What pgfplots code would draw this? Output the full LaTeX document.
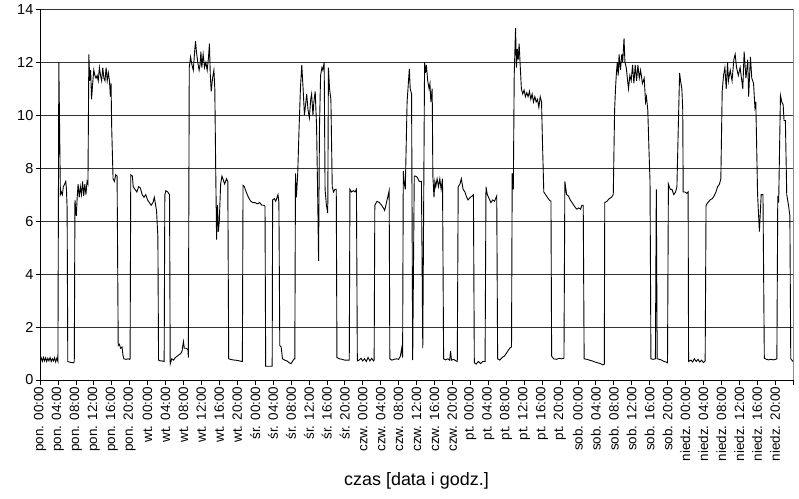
\documentclass[border=0pt]{standalone}
\usepackage{fontspec}
\setmainfont{Liberation Sans}
\usepackage{pgfplots}
\pgfplotsset{compat=1.18}
\begin{document}
\begin{tikzpicture}
\useasboundingbox (0,0) rectangle (799bp,499bp);
\begin{axis}[
  at={(40bp,119bp)}, anchor=south west,
  scale only axis, width=753bp, height=370.7bp,
  xmin=0, xmax=168, ymin=0, ymax=14,
  axis lines*=left,
  axis line style={black, line width=0.8bp},
  tick align=outside,
  major tick length=4.5bp,
  tick style={black, line width=0.7bp},
  ytick={0,2,...,14},
  xtick={0,4,...,164},
  xticklabels={pon. 00:00,pon. 04:00,pon. 08:00,pon. 12:00,pon. 16:00,pon. 20:00,
    wt. 00:00,wt. 04:00,wt. 08:00,wt. 12:00,wt. 16:00,wt. 20:00,
    śr. 00:00,śr. 04:00,śr. 08:00,śr. 12:00,śr. 16:00,śr. 20:00,
    czw. 00:00,czw. 04:00,czw. 08:00,czw. 12:00,czw. 16:00,czw. 20:00,
    pt. 00:00,pt. 04:00,pt. 08:00,pt. 12:00,pt. 16:00,pt. 20:00,
    sob. 00:00,sob. 04:00,sob. 08:00,sob. 12:00,sob. 16:00,sob. 20:00,
    niedz. 00:00,niedz. 04:00,niedz. 08:00,niedz. 12:00,niedz. 16:00,niedz. 20:00},
  xticklabel style={rotate=90, anchor=east, font=\fontsize{13.5}{14}\selectfont, inner sep=2bp},
  yticklabel style={font=\fontsize{14.5}{15}\selectfont, inner sep=2bp},
  /pgf/number format/assume math mode=true,
  ymajorgrids,
  major grid style={black!80, line width=0.75bp},
  extra x ticks={168}, extra x tick labels={},
  extra x tick style={grid=major, major grid style={black!45, line width=0.6bp}},
  xlabel={czas [data i godz.]},
  x label style={at={(axis description cs:0.5,0)}, anchor=center, yshift=-101bp, font=\fontsize{18}{20}\selectfont},
]
\addplot[black, line width=0.9bp, sharp plot, no marks] coordinates {
(0,0.75)(0.25,0.85)(0.5,0.7)(0.75,0.85)(1.0,0.72)(1.25,0.84)(1.5,0.7)(1.75,0.82)(2.0,0.72)(2.25,0.85)(2.5,0.7)(2.75,0.8)(3.0,0.72)(3.25,0.84)(3.5,0.68)(3.75,0.82)(4.0,0.7)
(4.2,12.0)(4.55,7.0)(4.8,7.1)(5.0,7.0)(5.2,7.3)(5.5,7.4)(5.75,7.5)(5.9,7.2)(6.05,6.5)(6.2,0.7)(6.5,0.68)(7.0,0.66)(7.5,0.65)(7.65,0.7)
(7.8,6.8)(8.1,6.2)(8.3,6.9)(8.5,7.4)(8.75,6.9)(9.0,7.3)(9.25,7.0)(9.5,7.5)(9.75,6.95)(10.0,7.4)(10.25,7.0)(10.5,7.5)(10.7,7.4)
(10.9,12.3)(11.1,11.3)(11.3,11.7)(11.5,10.6)(11.75,11.2)(12.0,11.7)(12.25,11.5)(12.5,11.4)(12.75,11.5)(13.0,11.3)(13.25,11.8)(13.5,11.5)(13.75,11.3)(14.0,11.8)(14.25,11.4)(14.5,11.3)(14.75,11.8)(15.0,11.3)(15.25,11.6)(15.5,11.3)(15.7,10.7)(15.85,11.2)(16.0,9.5)
(16.3,7.6)(16.6,7.5)(16.9,7.75)(17.2,7.7)(17.45,1.3)(17.7,1.35)(18.0,1.2)(18.3,1.25)(18.5,0.95)(18.7,0.8)(19.2,0.78)(19.7,0.8)(20.0,0.78)(20.1,0.8)
(20.25,7.75)(20.6,7.7)(20.8,7.3)(21.2,7.2)(21.6,7.1)(22.0,7.3)(22.4,7.25)(22.8,7.0)(23.2,6.9)(23.6,7.0)(24.0,6.8)(24.4,6.7)(24.8,6.6)(25.2,6.7)(25.5,6.9)(25.8,6.6)(26.0,6.4)(26.3,5.4)
(26.45,0.75)(26.8,0.72)(27.2,0.72)(27.7,0.7)(27.85,7.0)(28.1,7.15)(28.5,7.1)(28.9,7.0)(29.05,0.6)(29.4,0.8)(29.8,0.75)(30.2,0.85)(30.6,0.9)(31.0,0.95)(31.4,1.0)(31.7,1.1)(32.0,1.45)(32.2,1.2)(32.6,1.2)(33.0,1.15)(33.1,0.85)
(33.3,11.8)(33.6,12.2)(33.9,11.9)(34.2,11.7)(34.5,12.4)(34.7,12.8)(34.9,12.4)(35.2,12.0)(35.5,11.7)(35.7,11.9)(35.9,12.4)(36.1,11.8)(36.4,12.3)(36.7,11.8)(37.0,12.0)(37.3,11.7)(37.6,12.2)(37.8,12.7)(38.0,11.5)(38.2,10.9)(38.5,11.4)(38.8,11.7)(39.0,11.0)(39.2,8.0)
(39.4,5.3)(39.6,6.6)(39.8,5.6)(40.0,6.0)(40.3,7.4)(40.6,7.7)(40.9,7.55)(41.2,7.4)(41.6,7.6)(41.9,7.5)
(42.1,0.8)(42.5,0.78)(43.0,0.76)(43.5,0.75)(44.0,0.74)(44.5,0.72)(45.0,0.7)(45.15,0.7)
(45.3,7.35)(45.6,7.3)(46.0,7.1)(46.5,6.9)(47.0,6.75)(47.5,6.7)(48.0,6.7)(48.5,6.65)(49.0,6.7)(49.5,6.6)(50.0,6.6)(50.2,6.55)
(50.35,0.52)(51.0,0.52)(51.8,0.52)(51.9,6.8)(52.3,6.85)(52.6,6.75)(52.9,6.9)(53.1,7.0)(53.3,6.7)(53.5,1.3)(53.8,1.25)(54.1,0.8)(54.6,0.75)(55.1,0.72)(55.6,0.65)(56.0,0.62)(56.4,0.72)(56.7,0.8)(56.85,0.8)
(57.0,7.8)(57.2,6.9)(57.5,7.8)(57.8,9.5)(58.1,11.0)(58.4,11.9)(58.7,11.0)(59.0,10.0)(59.5,10.8)(59.8,10.2)(60.1,9.9)(60.4,10.6)(60.6,10.8)(60.9,10.0)(61.1,10.5)(61.4,10.9)(61.7,9.6)(61.95,7.0)(62.15,4.5)
(62.35,9.5)(62.6,11.5)(62.9,11.8)(63.1,11.7)(63.4,12.0)(63.6,7.2)(63.9,6.6)(64.2,6.3)(64.35,11.8)(64.6,11.0)(64.9,10.6)(65.2,7.3)(65.5,7.1)(65.8,7.2)(66.1,7.2)
(66.25,0.85)(66.8,0.8)(67.4,0.78)(68.0,0.75)(68.6,0.75)(69.0,0.75)(69.15,7.2)(69.5,7.1)(69.9,7.15)(70.3,7.1)(70.6,7.2)
(70.8,0.72)(71.2,0.75)(71.6,0.82)(72.0,0.72)(72.4,0.8)(72.8,0.7)(73.2,0.85)(73.6,0.72)(74.0,0.82)(74.4,0.72)(74.55,0.75)
(74.7,6.6)(75.2,6.75)(75.7,6.7)(76.2,6.6)(76.6,6.5)(76.9,6.4)(77.3,6.7)(77.9,7.15)(78.05,0.8)(78.5,0.75)(79.0,0.78)(79.5,0.8)(80.0,0.78)(80.4,0.9)(80.7,1.2)(80.9,0.85)
(81.05,7.9)(81.3,7.4)(81.5,7.2)(81.9,10.5)(82.4,11.75)(82.6,11.0)(82.9,10.8)(83.15,0.75)(83.5,7.7)(83.8,7.7)(84.2,7.65)(84.6,7.5)(85.1,7.5)(85.4,1.2)
(85.8,12.0)(86.0,11.6)(86.2,11.9)(86.5,11.3)(86.8,11.0)(87.0,11.2)(87.2,10.5)(87.5,11.0)(87.65,7.7)(87.9,6.9)(88.1,7.5)(88.3,7.3)(88.6,7.6)(88.9,7.3)(89.2,7.6)(89.5,7.2)(89.8,7.6)
(90.05,0.8)(90.5,0.76)(91.0,0.8)(91.4,0.75)(91.6,1.1)(91.8,0.75)(92.3,0.78)(92.8,0.72)(93.1,0.7)
(93.3,7.3)(93.7,7.4)(94.0,7.6)(94.4,7.2)(94.8,7.1)(95.2,6.9)(95.5,6.8)(96.0,6.9)(96.4,6.95)(96.7,7.0)
(96.9,0.65)(97.3,0.6)(97.8,0.7)(98.3,0.62)(98.8,0.7)(99.3,0.7)(99.5,7.3)(99.8,7.0)(100.2,6.85)(100.6,6.7)(101.0,6.8)(101.4,6.75)(101.9,6.95)
(102.1,0.8)(102.6,0.75)(103.1,0.85)(103.6,0.9)(104.0,1.0)(104.4,1.1)(104.8,1.2)(105.2,1.25)
(105.35,7.8)(105.6,7.2)(105.8,11.5)(106.1,13.3)(106.3,11.8)(106.5,12.5)(106.7,12.1)(106.9,12.7)(107.1,12.0)(107.4,11.0)(107.7,10.8)(108.0,10.95)(108.3,10.7)(108.6,10.85)(108.9,10.7)(109.2,10.9)(109.5,10.6)(109.8,10.8)(110.1,10.5)(110.4,10.7)(110.7,10.5)(111.0,10.6)(111.3,10.3)(111.6,10.7)(111.9,10.5)(112.1,9.0)
(112.4,7.1)(112.8,7.0)(113.2,6.9)(113.6,6.8)(114.0,6.75)(114.15,0.9)(114.6,0.8)(115.2,0.78)(115.8,0.82)(116.4,0.8)(116.9,0.82)
(117.1,7.5)(117.5,7.0)(117.9,6.95)(118.3,6.8)(118.7,6.7)(119.1,6.6)(119.5,6.5)(119.8,6.45)(120.2,6.5)(120.6,6.45)(120.9,6.6)(121.2,6.6)
(121.4,0.8)(122.0,0.78)(122.6,0.75)(123.2,0.72)(123.8,0.68)(124.4,0.65)(125.0,0.62)(125.6,0.57)(125.9,0.6)
(126.0,6.7)(126.5,6.75)(127.0,6.85)(127.5,6.9)(127.9,7.0)(128.2,10.2)(128.4,11.0)(128.6,11.6)(128.8,12.0)(129.0,11.5)(129.2,12.3)(129.5,11.7)(129.8,12.3)(130.0,12.0)(130.3,12.9)(130.5,12.0)(130.8,11.8)(131.1,11.3)(131.3,11.0)(131.6,11.5)(131.9,11.3)(132.2,11.9)(132.5,11.2)(132.8,11.9)(133.1,11.3)(133.4,11.9)(133.7,11.4)(134.0,11.7)(134.4,11.2)(134.8,11.4)(135.1,10.5)(135.3,10.7)(135.6,10.2)(135.9,8.5)(136.1,7.5)
(136.3,0.8)(136.8,0.78)(137.3,0.8)(137.5,7.2)(137.7,0.8)(138.2,0.78)(138.7,0.75)(139.2,0.7)(139.7,0.68)(140.0,0.65)
(140.2,7.4)(140.6,7.2)(141.0,7.2)(141.4,7.0)(141.8,7.1)(142.1,7.3)(142.4,9.5)(142.7,11.6)(142.9,11.3)(143.2,11.0)(143.4,10.2)(143.5,7.1)(143.9,7.1)(144.3,7.05)(144.6,7.1)
(144.7,0.7)(145.2,0.75)(145.6,0.68)(146.0,0.8)(146.4,0.7)(146.8,0.78)(147.2,0.68)(147.6,0.75)(148.0,0.66)(148.4,0.72)
(148.6,6.6)(149.0,6.7)(149.5,6.8)(150.0,6.85)(150.4,6.95)(150.8,7.1)(151.2,7.3)(151.6,7.4)(151.9,7.6)
(152.2,10.9)(152.5,11.5)(152.8,11.8)(153.1,11.0)(153.4,12.0)(153.6,11.3)(154.0,11.7)(154.4,11.3)(154.8,12.1)(155.1,12.3)(155.4,11.8)(155.8,11.5)(156.2,11.8)(156.8,11.0)(157.1,12.4)(157.5,11.4)(157.9,12.1)(158.1,10.7)(158.5,12.2)(158.8,11.4)(159.2,11.2)(159.5,10.3)(159.7,10.5)
(160.1,7.0)(160.5,5.6)(160.9,7.0)(161.3,7.0)(161.6,0.82)(162.1,0.78)(162.6,0.76)(163.1,0.78)(163.6,0.76)(164.1,0.78)(164.4,0.8)
(164.6,6.95)(164.8,6.7)(165.2,10.75)(165.5,10.5)(165.8,10.4)(166.0,9.8)(166.3,9.8)(166.6,7.0)(167.0,6.6)(167.3,6.2)(167.5,0.8)(168.0,0.7)
};
\end{axis}
\end{tikzpicture}
\end{document}
